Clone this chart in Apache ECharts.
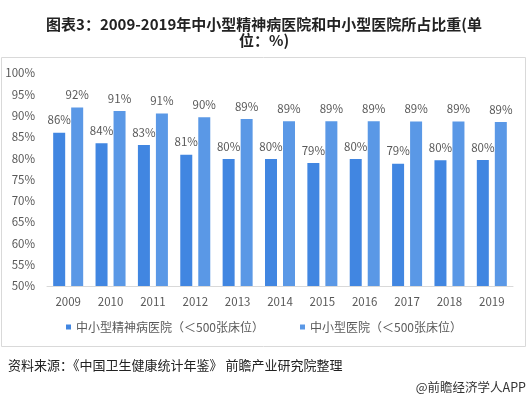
<!DOCTYPE html>
<html><head><meta charset="utf-8">
<script src="https://cdn.jsdelivr.net/npm/echarts@6/dist/echarts.min.js"></script>
<style>html,body{margin:0;padding:0;background:#fff}#c{width:528px;height:399px}</style>
</head><body><div id="c"></div>
<script>
var years = ['2009','2010','2011','2012','2013','2014','2015','2016','2017','2018','2019'];
var psychiatric = [86.0, 83.5, 83.1, 80.8, 79.8, 79.8, 78.9, 79.8, 78.7, 79.5, 79.6];
var general = [91.9, 91.1, 90.5, 89.6, 89.2, 88.7, 88.7, 88.7, 88.6, 88.6, 88.5];
var seriesNames = ['中小型精神病医院（＜500张床位）', '中小型医院（＜500张床位）'];
var titleText = '图表3：2009-2019年中小型精神病医院和中小型医院所占比重(单\n位：%)';
var sourceText = '资料来源：《中国卫生健康统计年鉴》 前瞻产业研究院整理';
var brandText = '@前瞻经济学人APP';

var font = '"Microsoft YaHei","Noto Sans CJK SC",sans-serif';
var chart = echarts.init(document.getElementById('c'));
var lbl = {show:true, position:'top', distance:7, color:'#595959', fontSize:11.5, fontFamily:font,
  formatter:function(p){return Math.round(p.value)+'%';}};
chart.setOption({
  animation:false,
  title:{text:titleText, left:'center', top:11, textStyle:{fontSize:15, fontWeight:'bold', color:'#222', fontFamily:font, lineHeight:16}},
  graphic:[
    {type:'rect', shape:{x:1.5,y:57.5,width:524,height:289}, style:{fill:'none', stroke:'#d9d9d9', lineWidth:1}},
    {type:'text', left:8, top:359, style:{text:sourceText, fontSize:13, fill:'#222', fontFamily:font}},
    {type:'text', right:2, top:381, style:{text:brandText, fontSize:12.5, fill:'#333', fontFamily:font}}
  ],
  legend:{bottom:61, itemWidth:5, itemHeight:5, itemGap:36, icon:'rect',
    textStyle:{fontSize:12, color:'#595959', fontFamily:font}, data:seriesNames},
  grid:{left:47, right:15, top:73, bottom:113},
  xAxis:{type:'category', data:years, axisLine:{lineStyle:{color:'#d9d9d9'}}, axisTick:{show:false},
    axisLabel:{color:'#595959', fontSize:11.5, margin:10, fontFamily:font}},
  yAxis:{type:'value', min:50, max:100, interval:5, splitLine:{show:false},
    axisLabel:{formatter:'{value}%', color:'#595959', fontSize:11.5, margin:12, fontFamily:font}},
  series:[
    {name:seriesNames[0], type:'bar', data:psychiatric, barWidth:12, barGap:'50%', itemStyle:{color:'#4186E1'}, label:lbl},
    {name:seriesNames[1], type:'bar', data:general, barWidth:12, itemStyle:{color:'#5A98E6'}, label:lbl}
  ]
});
</script></body></html>
